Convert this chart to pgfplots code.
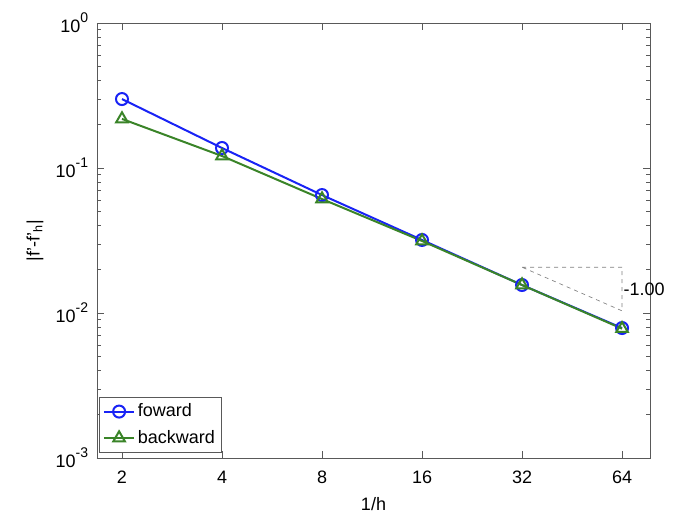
\documentclass[border=0pt]{standalone}
\usepackage{fontspec}
\setmainfont{Liberation Sans}
\usepackage{pgfplots}
\pgfplotsset{compat=1.18}
\definecolor{mblue}{RGB}{25,35,245}
\definecolor{mgreen}{RGB}{58,132,40}
\newcommand{\tp}[1]{10\raisebox{0.55em}{\fontsize{10.5}{12}\selectfont #1}}
\begin{document}
\fontsize{13.5}{15}\selectfont
\begin{tikzpicture}
\path (-72.75pt,-45pt) rectangle (432.75pt,343.5pt);
\begin{axis}[
  scale only axis,
  clip=false,
  width=414.75pt, height=326.25pt,
  xmode=log, ymode=log, log basis x=2,
  xmin=1.682, xmax=77.7,
  ymin=1e-3, ymax=1,
  xtick={2,4,8,16,32,64},
  xticklabels={2,4,8,16,32,64},
  ytick={1e-3,1e-2,1e-1,1},
  yticklabels={\tp{-3},\tp{-2},\tp{-1},\tp{0}},
  tick align=inside,
  axis line style={gray!70!black},
  every tick/.style={gray!70!black},
  major tick length=5pt, minor tick length=3pt,
  tick label style={font=\fontsize{13.5}{15}\selectfont},
  xticklabel style={yshift=-5pt},
  yticklabel style={xshift=-2pt},
  xlabel={1/h}, ylabel={|f'-f'\textsubscript{h}|},
  label style={font=\fontsize{13.5}{15}\selectfont},
  xlabel style={yshift=-1pt},
  ylabel style={yshift=0pt},
  /pgf/number format/assume math mode=true,
  legend style={draw=gray!70!black, font=\fontsize{13.5}{15}\selectfont, inner sep=3pt, row sep=4pt, at={(0.003,0.012)}, anchor=south west},
  legend image code/.code={\draw[mark repeat=2,mark phase=2] plot coordinates {(0cm,0cm) (0.4cm,0cm) (0.8cm,0cm)};},
  legend cell align=left,
]
\addplot[mblue, line width=1.5pt, mark=o, mark size=4.5pt, mark options={line width=1.5pt}] coordinates {
(2,0.299)(4,0.1374)(8,0.0651)(16,0.0319)(32,0.0156)(64,0.00788)};
\addlegendentry{foward}
\addplot[mgreen, line width=1.5pt, mark=triangle, mark size=5pt, mark options={line width=1.5pt}] coordinates {
(2,0.218)(4,0.121)(8,0.0611)(16,0.0314)(32,0.0156)(64,0.0078)};
\addlegendentry{backward}
\addplot[gray, dashed, line width=0.5pt, forget plot] coordinates {
(32,0.0207)(64,0.0207)(64,0.01035)(32,0.0207)};
\node[anchor=west, inner sep=1pt, font=\fontsize{13.5}{15}\selectfont] at (axis cs:64,0.0146) {-1.00};
\end{axis}
\end{tikzpicture}
\end{document}
